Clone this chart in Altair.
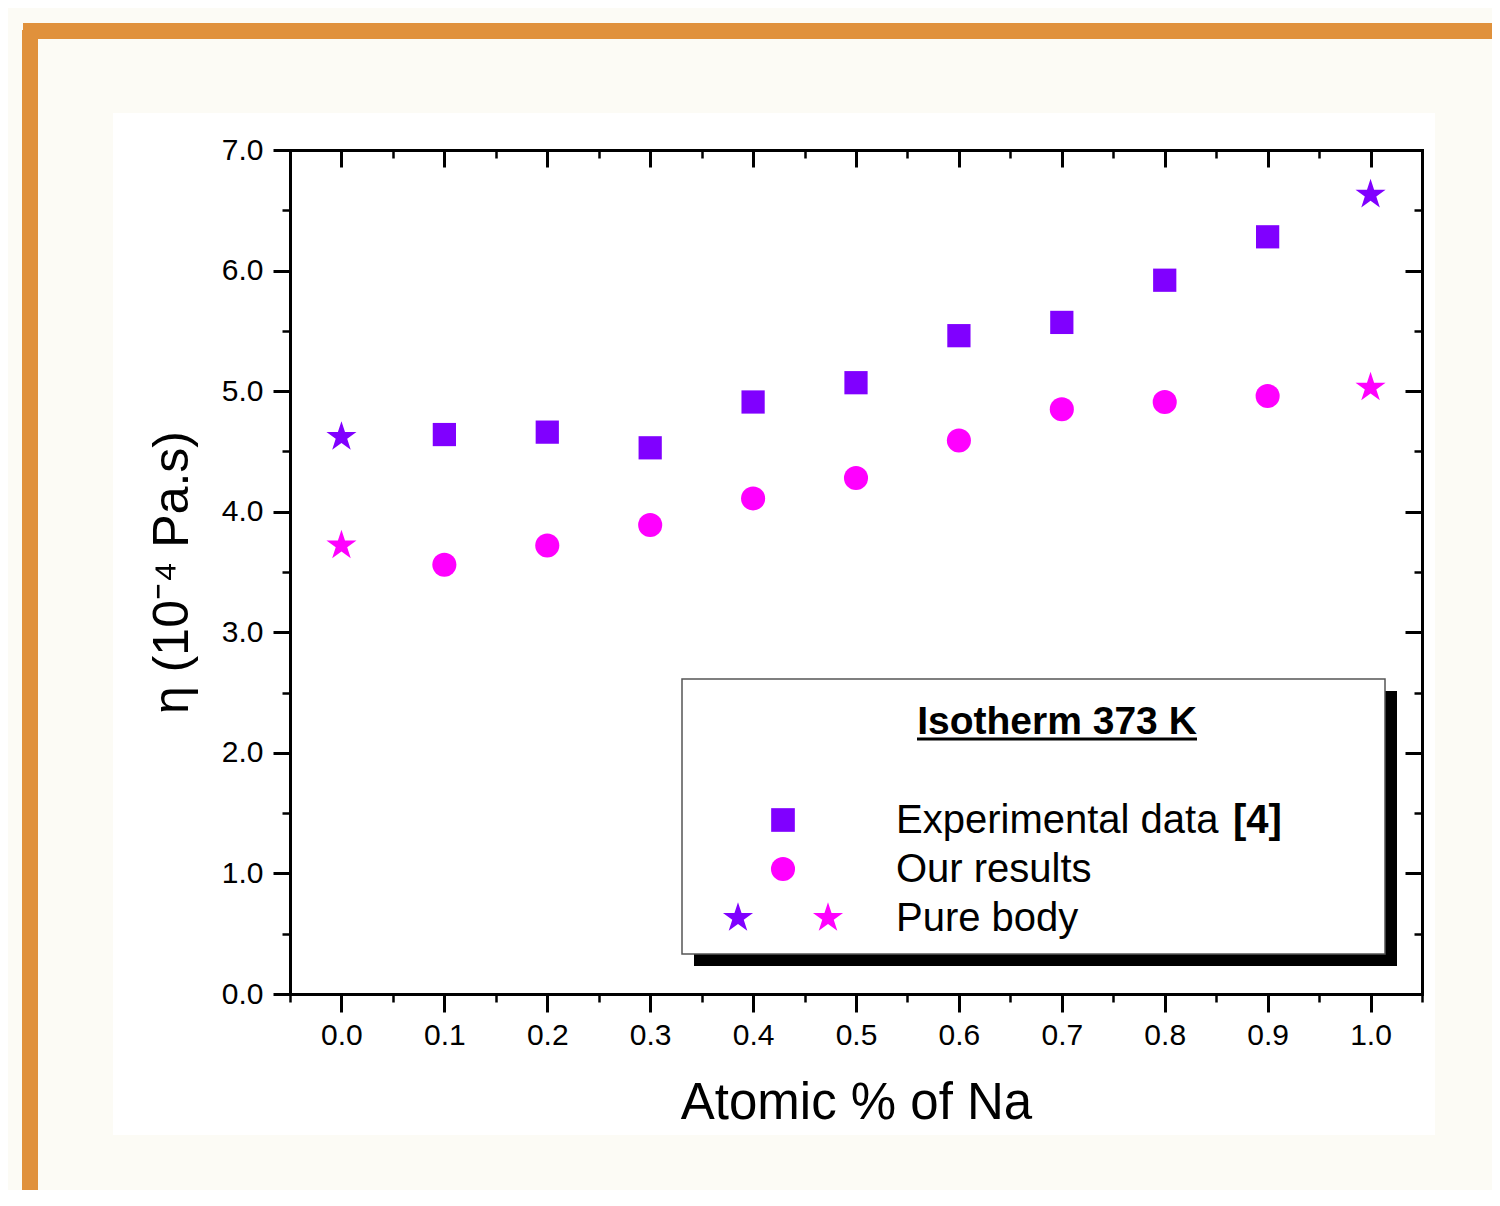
import altair as alt
import pandas as pd

# ---------------- data ----------------
x_exp = [0.1, 0.2, 0.3, 0.4, 0.5, 0.6, 0.7, 0.8, 0.9]
y_exp = [4.64, 4.66, 4.53, 4.91, 5.07, 5.46, 5.57, 5.92, 6.28]
x_our = [0.1, 0.2, 0.3, 0.4, 0.5, 0.6, 0.7, 0.8, 0.9]
y_our = [3.56, 3.72, 3.89, 4.11, 4.28, 4.59, 4.85, 4.91, 4.96]
x_pure = [0.0, 1.0]
y_pure_exp = [4.62, 6.63]
y_pure_our = [3.72, 5.03]

x_major = [0.0, 0.1, 0.2, 0.3, 0.4, 0.5, 0.6, 0.7, 0.8, 0.9, 1.0]
x_minor = [-0.05, 0.05, 0.15, 0.25, 0.35, 0.45, 0.55, 0.65, 0.75, 0.85, 0.95, 1.05]
y_major = [0.0, 1.0, 2.0, 3.0, 4.0, 5.0, 6.0, 7.0]
y_minor = [0.5, 1.5, 2.5, 3.5, 4.5, 5.5, 6.5]

PURPLE = "#8000FF"
MAGENTA = "#FF00FF"
FONT = "Liberation Sans, Arial, sans-serif"
STAR = ("M0,-1L0.2245,-0.309L0.9511,-0.309L0.3633,0.118L0.5878,0.809L0,0.382"
        "L-0.5878,0.809L-0.3633,0.118L-0.9511,-0.309L-0.2245,-0.309Z")

xs = alt.Scale(domain=[-0.05, 1.05], nice=False, zero=False)
ys = alt.Scale(domain=[0, 7], nice=False, zero=False)

one = pd.DataFrame({"x": [0.5], "y": [3.5]})


def ax(orient, **kw):
    base = dict(orient=orient, grid=False, zindex=1, labels=False, domain=False,
                ticks=False, title=None, tickColor="black", domainColor="black")
    base.update(kw)
    return alt.Axis(**base)


def axis_layer(xa, ya):
    return alt.Chart(one).mark_point(opacity=0).encode(
        x=alt.X("x:Q", scale=xs, axis=xa),
        y=alt.Y("y:Q", scale=ys, axis=ya),
    )


axes_layers = [
    axis_layer(
        ax("bottom", labels=True, ticks=True, tickSize=18, tickWidth=3, values=x_major,
           domain=True, domainWidth=3, domainCap="square", format=".1f",
           labelFontSize=30, labelFont=FONT, labelColor="black", labelPadding=8,
           title="Atomic % of Na", titleFontSize=51, titleFont=FONT,
           titleFontWeight="normal", titleColor="black", titlePadding=28),
        ax("left", labels=True, ticks=True, tickSize=17, tickWidth=3, values=y_major,
           domain=True, domainWidth=3, domainCap="square", format=".1f",
           labelFontSize=30, labelFont=FONT, labelColor="black", labelPadding=10,
           title="η (10⁻⁴ Pa.s)", titleFontSize=50, titleFont=FONT,
           titleFontWeight="normal", titleColor="black", titlePadding=24),
    ),
    axis_layer(
        ax("bottom", ticks=True, tickSize=8, tickWidth=2.5, values=x_minor),
        ax("left", ticks=True, tickSize=8, tickWidth=2.5, values=y_minor),
    ),
    axis_layer(
        ax("top", domain=True, domainWidth=3, domainCap="square"),
        ax("right", domain=True, domainWidth=3, domainCap="square"),
    ),
    axis_layer(
        ax("top", ticks=True, tickSize=17, tickWidth=3, values=x_major, offset=-17),
        ax("right", ticks=True, tickSize=17, tickWidth=3, values=y_major, offset=-17),
    ),
    axis_layer(
        ax("top", ticks=True, tickSize=8, tickWidth=2.5, values=x_minor, offset=-8),
        ax("right", ticks=True, tickSize=8, tickWidth=2.5, values=y_minor, offset=-8),
    ),
]

# ---------------- decoration (page background) ----------------
white_bg = alt.Chart(one).mark_rect(fill="white", clip=False).encode(
    x=alt.value(-177), x2=alt.value(1145), y=alt.value(-37), y2=alt.value(985))
orange_top = alt.Chart(one).mark_rect(fill="#E0913C", clip=False).encode(
    x=alt.value(-267), x2=alt.value(1220), y=alt.value(-127), y2=alt.value(-111))
orange_left = alt.Chart(one).mark_rect(fill="#E0913C", clip=False).encode(
    x=alt.value(-268), x2=alt.value(-252), y=alt.value(-120), y2=alt.value(1060))

# ---------------- data marks ----------------
df_exp = pd.DataFrame({"x": x_exp, "y": y_exp})
df_our = pd.DataFrame({"x": x_our, "y": y_our})
df_pe = pd.DataFrame({"x": x_pure, "y": y_pure_exp})
df_po = pd.DataFrame({"x": x_pure, "y": y_pure_our})


def pts(df, shape, color, size):
    return alt.Chart(df).mark_point(shape=shape, filled=True, color=color, size=size,
                                    opacity=1, strokeWidth=0).encode(
        x=alt.X("x:Q", scale=xs, axis=None),
        y=alt.Y("y:Q", scale=ys, axis=None),
    )


sq = pts(df_exp, "square", PURPLE, 540)
ci = pts(df_our, "circle", MAGENTA, 580)
st1 = pts(df_pe, STAR, PURPLE, 1000)
st2 = pts(df_po, STAR, MAGENTA, 1000)

# ---------------- legend box ----------------
shadow = alt.Chart(one).mark_rect(fill="black", clip=False).encode(
    x=alt.value(404), x2=alt.value(1107), y=alt.value(541), y2=alt.value(816))
box = alt.Chart(one).mark_rect(fill="white", stroke="#555555", strokeWidth=1.5, clip=False).encode(
    x=alt.value(392), x2=alt.value(1095), y=alt.value(529), y2=alt.value(804))


def txt(s, x, y, size=40, weight="normal", align="left"):
    return alt.Chart(one).mark_text(text=s, align=align, baseline="middle", fontSize=size,
                                    fontWeight=weight, font=FONT, color="black").encode(
        x=alt.value(x), y=alt.value(y))


leg_title = txt("Isotherm 373 K", 767, 572, size=39, weight="bold", align="center")
underline = alt.Chart(one).mark_rule(color="black", strokeWidth=3).encode(
    x=alt.value(627), x2=alt.value(907), y=alt.value(589))
t1 = txt("Experimental data", 606, 671)
t1b = txt("[4]", 943, 671, weight="bold")
t2 = txt("Our results", 606, 720)
t3 = txt("Pure body", 606, 769)


def lpt(shape, color, size, x, y):
    return alt.Chart(one).mark_point(shape=shape, filled=True, color=color, size=size,
                                     opacity=1, strokeWidth=0).encode(
        x=alt.value(x), y=alt.value(y))


m1 = lpt("square", PURPLE, 560, 493, 670)
m2 = lpt("circle", MAGENTA, 580, 493, 719)
m3 = lpt(STAR, PURPLE, 1000, 448, 768)
m4 = lpt(STAR, MAGENTA, 1000, 538, 768)

chart = alt.layer(
    white_bg, orange_top, orange_left,
    *axes_layers,
    sq, ci, st1, st2,
    shadow, box, leg_title, underline, t1, t1b, t2, t3, m1, m2, m3, m4,
).resolve_axis(x="independent", y="independent").properties(
    width=1132, height=844,
    padding={"left": 282, "top": 142, "right": 70, "bottom": 196},
    autosize="none",
    background="#FCFBF5",
).configure_view(strokeWidth=0, fill="white")

chart.save("out.html", embed_options={"renderer": "svg", "actions": False})
